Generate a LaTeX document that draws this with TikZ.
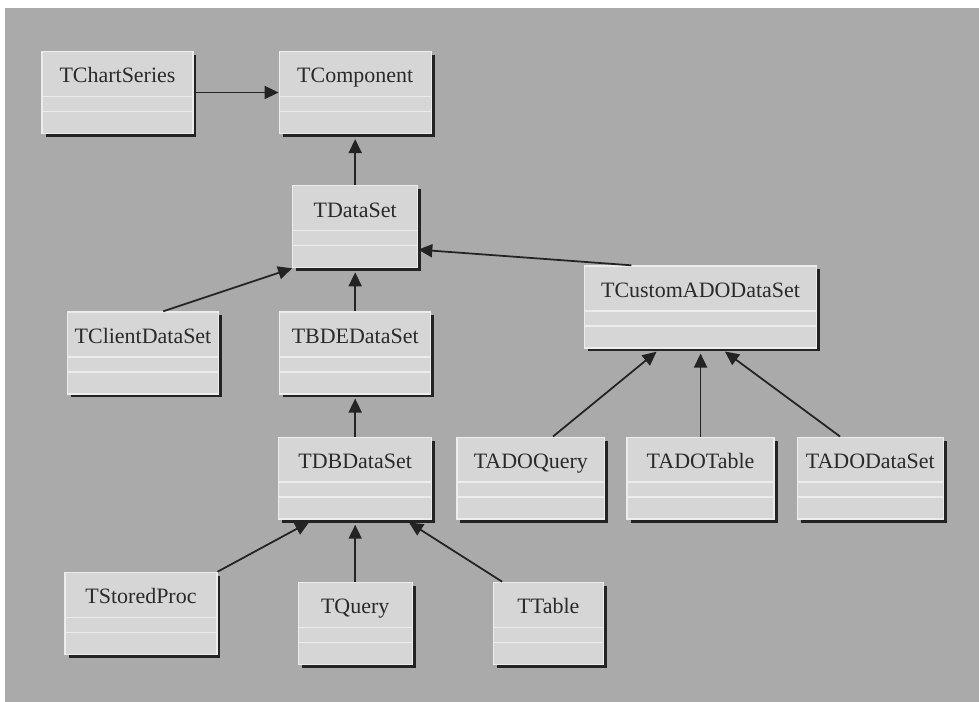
\documentclass[tikz,border=0pt]{standalone}
\usepackage{fontspec}
\setmainfont{Liberation Serif}
\usepackage{xcolor}
\usepackage{tikz}
\usetikzlibrary{arrows.meta,positioning,shadows}
\definecolor{bgc}{RGB}{170,170,170}
\definecolor{boxfill}{RGB}{214,214,214}
\definecolor{boxline}{RGB}{236,236,236}
\definecolor{shadowc}{RGB}{35,35,35}
\definecolor{txt}{RGB}{42,42,42}

\begin{document}
\begin{tikzpicture}[
  x=0.02cm, y=-0.02cm,
  every node/.style={font=\fontsize{12.5}{14}\selectfont},
  cls/.style={draw=boxline,line width=0.7pt,fill=boxfill,text=txt,
    inner xsep=2pt,inner ysep=0pt,text height=0.63cm,text depth=1.01cm,
    drop shadow={shadow xshift=0.07cm,shadow yshift=-0.07cm,opacity=1,fill=shadowc},
    path picture={
      \draw[boxline,line width=0.8pt] ([yshift=-0.9cm]path picture bounding box.north west)--([yshift=-0.9cm]path picture bounding box.north east);
      \draw[boxline,line width=0.8pt] ([yshift=-1.2cm]path picture bounding box.north west)--([yshift=-1.2cm]path picture bounding box.north east);
    }},
  arr/.style={-{Triangle[length=0.28cm,width=0.26cm]},draw=shadowc,fill=shadowc,line width=1pt}
]
\useasboundingbox (0,0) rectangle (979,702);
\fill[bgc] (5,8) rectangle (979,702);

\node[cls,minimum width=3.02cm] (chart) at (117.5,92.5) {TChartSeries};
\node[cls,minimum width=3.04cm,right=1.7cm of chart] (comp) {TComponent};
\node[cls,minimum width=2.5cm,below=1.02cm of comp] (dataset) {TDataSet};
\node[cls,minimum width=3.02cm,below=0.86cm of dataset] (bde) {TBDEDataSet};
\node[cls,minimum width=3.02cm,left=1.2cm of bde] (client) {TClientDataSet};
\node[cls,minimum width=3.06cm,below=0.84cm of bde] (dbds) {TDBDataSet};
\node[cls,minimum width=2.96cm,right=0.48cm of dbds] (adoquery) {TADOQuery};
\node[cls,minimum width=2.94cm,right=0.42cm of adoquery] (adotable) {TADOTable};
\node[cls,minimum width=2.92cm,right=0.44cm of adotable] (adods) {TADODataSet};
\node[cls,minimum width=4.64cm,above=1.76cm of adotable] (custom) {TCustomADODataSet};
\node[cls,minimum width=2.28cm,below=1.24cm of dbds] (query) {TQuery};
\node[cls,minimum width=3.04cm,left=1.6cm of query,yshift=0.2cm] (stored) {TStoredProc};
\node[cls,minimum width=2.2cm,right=1.6cm of query] (table) {TTable};

\draw[arr] (chart)--(comp);
\draw[arr,shorten >=0.1cm] (dataset)--(comp);
\draw[arr,shorten >=0.08cm] (bde)--(dataset);
\draw[arr] (client.64)--(dataset.south west);
\draw[arr] (custom.149)--(dataset.-20);
\draw[arr,shorten >=0.08cm] (dbds)--(bde);
\draw[arr,shorten >=0.1cm] (adoquery.62)--(custom.226);
\draw[arr,shorten >=0.1cm] (adotable)--(custom);
\draw[arr,shorten >=0.1cm] (adods.126)--(custom.-64);
\draw[arr,shorten >=0.1cm] (stored.north east)--(dbds.225);
\draw[arr,shorten >=0.1cm] (query)--(dbds);
\draw[arr,shorten >=0.1cm] (table.138)--(dbds.-40);
\end{tikzpicture}
\end{document}
